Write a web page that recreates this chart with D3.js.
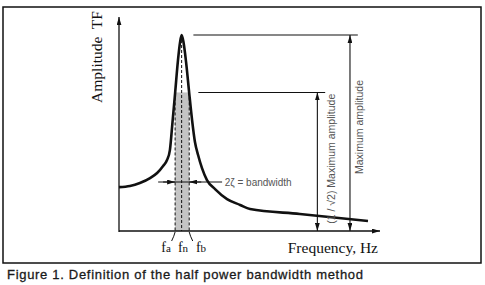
<!DOCTYPE html>
<html>
<head>
<meta charset="utf-8">
<script src="https://cdn.jsdelivr.net/npm/d3@7"></script>
<style>
  html, body { margin: 0; padding: 0; background: #fff; }
  svg { display: block; }
  .serif { font-family: "Liberation Serif", "DejaVu Serif", serif; fill: #111; }
  .note { font-family: "Liberation Sans", Arial, sans-serif; font-size: 10px; fill: #555; }
</style>
</head>
<body>
<div id="chart"></div>
<script>
// Half power bandwidth figure - response curve

// frequency response curve (arbitrary Hz, amplitude relative to peak)
const freq = [0, 4.2, 8.0, 11.9, 14.6, 16.9, 18.4, 19.5, 20.5, 21.5, 22.6, 23.4, 24.0,
              24.7, 25.7, 26.9, 28.0, 29.1, 30.3, 31.8, 33.7, 36.8, 41.4, 46.4, 50.2, 69.3, 95.4];
const amp = [0.224, 0.230, 0.245, 0.270, 0.296, 0.332, 0.362, 0.413, 0.556, 0.704, 0.872, 0.964, 1.0,
             0.964, 0.862, 0.704, 0.566, 0.454, 0.388, 0.321, 0.260, 0.214, 0.163, 0.133, 0.112, 0.087, 0.051];

// half power band
const markerNames = ['a', 'n', 'b'];
const markerFreqs = [21.5, 24.0, 26.9];
const peakAmp = 1.0;
const halfPowerAmp = 0.707;

const width = 485, height = 285;

const svg = d3.select('#chart')
    .append('svg')
    .attr('width', width)
    .attr('height', height);

// Scales
const x = d3.scaleLinear().domain([0, 100]).range([119, 380]);
const y = d3.scaleLinear().domain([0, 1.092]).range([231, 17]);

// Arrow heads
const defs = svg.append('defs');
defs.append('marker')
    .attr('id', 'arrow')
    .attr('viewBox', '0 0 10 6')
    .attr('refX', 10).attr('refY', 3)
    .attr('markerWidth', 8).attr('markerHeight', 5)
    .attr('markerUnits', 'userSpaceOnUse')
    .attr('orient', 'auto-start-reverse')
    .append('path')
    .attr('d', 'M0,0 L10,3 L0,6 Z')
    .attr('fill', '#111');

// Frame
svg.append('rect')
    .attr('x', 3).attr('y', 7)
    .attr('width', 478).attr('height', 256)
    .attr('fill', 'none')
    .attr('stroke', '#111')
    .attr('stroke-width', 1.5);

// Shaded half power band
svg.append('rect')
    .attr('x', x(markerFreqs[0]))
    .attr('y', y(halfPowerAmp))
    .attr('width', x(markerFreqs[2]) - x(markerFreqs[0]))
    .attr('height', y(0) - y(halfPowerAmp))
    .attr('fill', '#c4c4c4');

// Dashed lines at fa, fn, fb
svg.selectAll('.mline')
    .data(markerFreqs)
    .enter()
    .append('line')
    .attr('class', 'mline')
    .attr('x1', d => x(d)).attr('x2', d => x(d))
    .attr('y1', (d, i) => y(i === 1 ? peakAmp : halfPowerAmp))
    .attr('y2', y(0))
    .attr('stroke', '#111')
    .attr('stroke-width', 1)
    .attr('stroke-dasharray', '3,2');

// Axes
svg.append('line')
    .attr('x1', x(0)).attr('x2', x(0))
    .attr('y1', y(0) + 1).attr('y2', y.range()[1])
    .attr('stroke', '#111').attr('stroke-width', 1.3)
    .attr('marker-end', 'url(#arrow)');

svg.append('line')
    .attr('x1', x(0)).attr('x2', x.range()[1])
    .attr('y1', y(0)).attr('y2', y(0))
    .attr('stroke', '#111').attr('stroke-width', 1.3)
    .attr('marker-end', 'url(#arrow)');

// Response curve
const line = d3.line()
    .x(d => x(d[0]))
    .y(d => y(d[1]))
    .curve(d3.curveMonotoneX);

svg.append('path')
    .datum(d3.zip(freq, amp))
    .attr('d', line)
    .attr('fill', 'none')
    .attr('stroke', '#111')
    .attr('stroke-width', 2.6)
    .attr('stroke-linejoin', 'round');

// Reference levels (peak and half power)
svg.append('line')
    .attr('x1', x(28.5)).attr('x2', x(91.5))
    .attr('y1', y(peakAmp)).attr('y2', y(peakAmp))
    .attr('stroke', '#111').attr('stroke-width', 1.1);

svg.append('line')
    .attr('x1', x(30.4)).attr('x2', x(79))
    .attr('y1', y(halfPowerAmp)).attr('y2', y(halfPowerAmp))
    .attr('stroke', '#111').attr('stroke-width', 1.1);

// Dimension arrows
const dims = [
    { f: 76, top: halfPowerAmp },
    { f: 88.5, top: peakAmp }
];
svg.selectAll('.dim')
    .data(dims)
    .enter()
    .append('line')
    .attr('class', 'dim')
    .attr('x1', d => x(d.f)).attr('x2', d => x(d.f))
    .attr('y1', d => y(d.top)).attr('y2', y(0))
    .attr('stroke', '#111').attr('stroke-width', 1.1)
    .attr('marker-start', 'url(#arrow)')
    .attr('marker-end', 'url(#arrow)');

svg.append('text')
    .attr('class', 'note')
    .attr('transform', `translate(${x(76) + 18},${(y(halfPowerAmp) + y(0)) / 2 - 3}) rotate(-90)`)
    .attr('text-anchor', 'middle')
    .style('font-size', '10.5px')
    .text('(1 / \u221A2) Maximum amplitude');

svg.append('text')
    .attr('class', 'note')
    .attr('transform', `translate(${x(88.5) + 13},${127}) rotate(-90)`)
    .attr('text-anchor', 'middle')
    .style('font-size', '10.5px')
    .text('Maximum amplitude');

// Bandwidth arrows
const bwY = y(0.25);
svg.append('line')
    .attr('x1', x(15)).attr('x2', x(39.5))
    .attr('y1', bwY).attr('y2', bwY)
    .attr('stroke', '#111').attr('stroke-width', 1);
svg.append('line')
    .attr('x1', x(markerFreqs[0]) - 12).attr('x2', x(markerFreqs[0]))
    .attr('y1', bwY).attr('y2', bwY)
    .attr('stroke', '#111').attr('stroke-width', 1)
    .attr('marker-end', 'url(#arrow)');
svg.append('line')
    .attr('x1', x(markerFreqs[2]) + 12).attr('x2', x(markerFreqs[2]))
    .attr('y1', bwY).attr('y2', bwY)
    .attr('stroke', '#111').attr('stroke-width', 1)
    .attr('marker-end', 'url(#arrow)');

svg.append('text')
    .attr('class', 'note')
    .attr('x', x(40.5))
    .attr('y', bwY + 3.5)
    .text('2\u03B6 = bandwidth');

// Marker labels fa, fn, fb with little leaders
const labelX = [166, 183, 201];
const labels = svg.selectAll('.mlabel')
    .data(markerNames)
    .enter()
    .append('text')
    .attr('class', 'serif')
    .attr('x', (d, i) => labelX[i])
    .attr('y', 252)
    .attr('text-anchor', 'middle')
    .style('font-size', '14px');
labels.append('tspan').text('f');
labels.append('tspan').style('font-size', '11px').text(d => d);

[0, 2].forEach(i => {
    const fx = x(markerFreqs[i]);
    const dir = i === 0 ? -1 : 1;
    svg.append('path')
        .attr('d', `M${fx + dir * 3.5},${y(0) + 10} Q${fx + dir * 1},${y(0) + 5} ${fx},${y(0) + 1}`)
        .attr('fill', 'none')
        .attr('stroke', '#111')
        .attr('stroke-width', 1);
});

// Axis titles
svg.append('text')
    .attr('class', 'serif')
    .attr('x', 378)
    .attr('y', 253)
    .attr('text-anchor', 'end')
    .style('font-size', '15.5px')
    .text('Frequency, Hz');

svg.append('text')
    .attr('class', 'serif')
    .attr('transform', 'translate(102,57) rotate(-90)')
    .attr('text-anchor', 'middle')
    .style('font-size', '15.5px')
    .attr('xml:space', 'preserve')
    .text('Amplitude  TF');

// Caption
svg.append('text')
    .attr('x', 7)
    .attr('y', 279)
    .attr('textLength', 356)
    .style('font-family', '"Liberation Sans", Arial, sans-serif')
    .style('font-size', '13px')
    .style('fill', '#1a1a1a')
    .style('stroke', '#1a1a1a')
    .style('stroke-width', 0.3)
    .text('Figure 1. Definition of the half power bandwidth method');
</script>
</body>
</html>
